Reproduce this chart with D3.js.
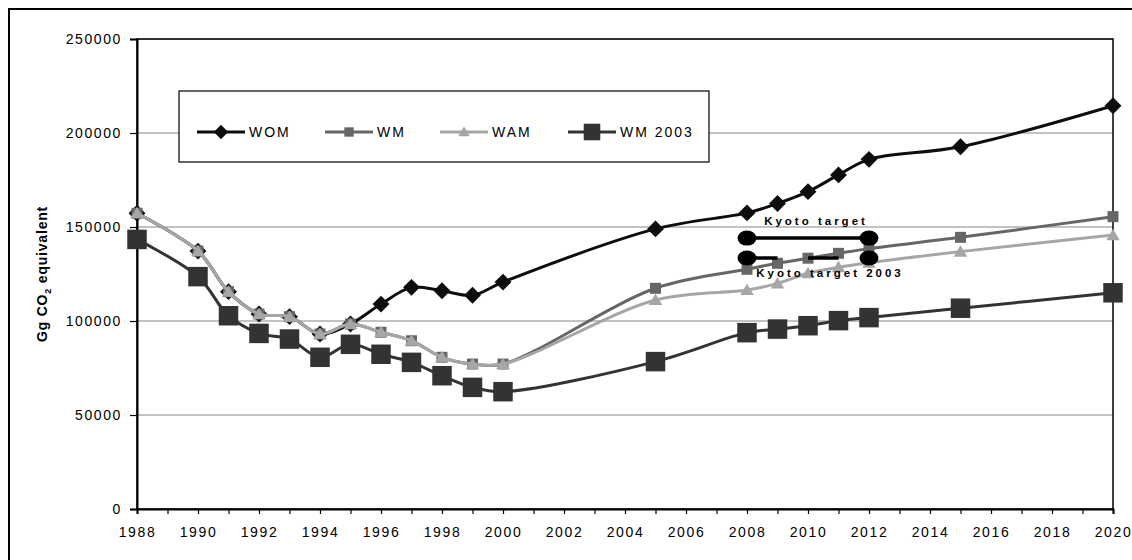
<!DOCTYPE html>
<html>
<head>
<meta charset="utf-8">
<script src="https://cdn.jsdelivr.net/npm/d3@7"></script>
<style>
    body { margin: 0; background: #fff; }
    text { font-family: Arial, "Liberation Sans", sans-serif; }
</style>
</head>
<body>
<svg id="svg"></svg>
<script>
// years that carry a marker in the original chart
const years = [1988, 1990, 1991, 1992, 1993, 1994, 1995, 1996, 1997, 1998, 1999, 2000,
    2005, 2008, 2009, 2010, 2011, 2012, 2015, 2020];

// Gg CO2 equivalent
const wom = [157300, 137200, 115600, 103700, 102300, 93100, 98400, 109000, 117900, 116100, 113700, 120700,
    149000, 157500, 162500, 168800, 177700, 186000, 192700, 214500];
const wm = [157300, 137200, 115600, 103700, 102300, 93100, 98400, 94000, 89500, 80700, 77100, 77100,
    117400, 127500, 130700, 133400, 136000, 138500, 144500, 155500];
const wam = [157300, 137200, 115600, 103700, 102300, 93100, 98400, 94000, 89500, 80700, 77100, 77100,
    111200, 116500, 120000, 125400, 128600, 131000, 136900, 145700];
const wm2003 = [143400, 123600, 102800, 93400, 90400, 80700, 87600, 82300, 78000, 70900, 64700, 62400,
    78400, 93800, 95700, 97500, 100200, 101800, 106800, 115000];

const kyotoYears = [2008, 2012];
const kyotoTarget = 144100;
const kyotoTarget2003 = 133500;

const yTicks = [0, 50000, 100000, 150000, 200000, 250000];
const xTicks = d3.range(1988, 2021);

const seriesNames = ["WOM", "WM", "WAM", "WM 2003"];
const seriesValues = [wom, wm, wam, wm2003];

const styles = {
    "WOM": { color: "#0d0d0d", marker: "diamond", size: 12.5 },
    "WM": { color: "#666666", marker: "square", size: 11 },
    "WAM": { color: "#a6a6a6", marker: "triangle", size: 13.5 },
    "WM 2003": { color: "#333333", marker: "square", size: 19.5 },
};

const W = 1132, H = 560;
const plot = { left: 137, right: 1113, top: 39, bottom: 509 };

const svg = d3.select("#svg").attr("width", W).attr("height", H);

const x = d3.scaleLinear().domain([1988, 2020]).range([plot.left, plot.right]);
const y = d3.scaleLinear().domain([0, 250000]).range([plot.bottom, plot.top]);

// outer chart frame (cut off at right and bottom in the original)
svg.append("rect")
    .attr("x", 9).attr("y", 9)
    .attr("width", 1140).attr("height", 580)
    .attr("fill", "none").attr("stroke", "#000").attr("stroke-width", 2);

// gridlines
svg.append("g")
    .selectAll("line")
    .data(yTicks.filter(v => v > 0))
    .join("line")
    .attr("x1", plot.left).attr("x2", plot.right)
    .attr("y1", d => y(d)).attr("y2", d => y(d))
    .attr("stroke", "#868686").attr("stroke-width", 1);

// plot border
svg.append("rect")
    .attr("x", plot.left).attr("y", plot.top)
    .attr("width", plot.right - plot.left).attr("height", plot.bottom - plot.top)
    .attr("fill", "none").attr("stroke", "#000").attr("stroke-width", 1.5);

const yAxis = svg.append("g")
    .attr("transform", `translate(${plot.left},0)`)
    .call(d3.axisLeft(y).tickValues(yTicks).tickSize(7).tickPadding(8).tickFormat(d => String(d)));

const xAxis = svg.append("g")
    .attr("transform", `translate(0,${plot.bottom})`)
    .call(d3.axisBottom(x).tickValues(xTicks).tickSize(5).tickPadding(13)
        .tickFormat(d => (d % 2 === 0 ? String(d) : "")));

[yAxis, xAxis].forEach(axis => {
    axis.select(".domain").attr("stroke", "#000").attr("stroke-width", 2);
    axis.selectAll(".tick line").attr("stroke", "#000").attr("stroke-width", 1.2);
    axis.selectAll("text")
        .attr("fill", "#000")
        .style("font-size", "14px")
        .style("letter-spacing", "1.6px");
});

// y axis title
const title = svg.append("text")
    .attr("transform", `translate(47,${(plot.top + plot.bottom) / 2}) rotate(-90)`)
    .attr("text-anchor", "middle")
    .style("font-size", "14px")
    .style("font-weight", "bold")
    .style("letter-spacing", "0.8px");
title.append("tspan").text("Gg CO");
title.append("tspan").text("2").style("font-size", "9px").attr("dy", 4);
title.append("tspan").text(" equivalent").attr("dy", -4);

const markerPath = function(shape, s) {
    const h = s / 2;
    if (shape === "diamond") {
        const d = h * 1.35;
        return `M0,${-d}L${d},0L0,${d}L${-d},0Z`;
    }
    if (shape === "triangle") {
        return `M0,${-h * 0.95}L${h},${h * 0.75}L${-h},${h * 0.75}Z`;
    }
    return `M${-h},${-h}H${h}V${h}H${-h}Z`;
};

const line = d3.line()
    .x(d => x(d.year))
    .y(d => y(d.value))
    .curve(d3.curveCatmullRom.alpha(0.5));

const series = seriesNames.map((name, i) => ({
    name: name,
    points: years.map((year, j) => ({ year: year, value: seriesValues[i][j] })),
}));

series.forEach(s => {
    const st = styles[s.name];
    const g = svg.append("g");
    g.append("path")
        .attr("d", line(s.points))
        .attr("fill", "none")
        .attr("stroke", st.color)
        .attr("stroke-width", 3);
    g.selectAll("path.mark")
        .data(s.points)
        .join("path")
        .attr("class", "mark")
        .attr("transform", d => `translate(${x(d.year)},${y(d.value)})`)
        .attr("d", markerPath(st.marker, st.size))
        .attr("fill", st.color);
});

// Kyoto targets
const kyoto = [
    { value: kyotoTarget, label: "Kyoto target", dash: null, labelDx: 8, labelDy: -13 },
    { value: kyotoTarget2003, label: "Kyoto target 2003", dash: x(2009) - x(2008), labelDx: 22, labelDy: 19 },
];
kyoto.forEach(k => {
    const g = svg.append("g");
    g.append("line")
        .attr("x1", x(kyotoYears[0])).attr("x2", x(kyotoYears[1]))
        .attr("y1", y(k.value)).attr("y2", y(k.value))
        .attr("stroke", "#000").attr("stroke-width", 3.5)
        .attr("stroke-dasharray", k.dash ? `${k.dash} ${k.dash}` : null);
    g.selectAll("ellipse")
        .data(kyotoYears)
        .join("ellipse")
        .attr("cx", d => x(d)).attr("cy", y(k.value))
        .attr("rx", 9.5).attr("ry", 7.5)
        .attr("fill", "#000");
    g.append("text")
        .attr("x", x((kyotoYears[0] + kyotoYears[1]) / 2) + k.labelDx)
        .attr("y", y(k.value) + k.labelDy)
        .attr("text-anchor", "middle")
        .style("font-size", "11.5px")
        .style("font-weight", "bold")
        .style("letter-spacing", "3px")
        .text(k.label);
});

// legend
const legend = svg.append("g").attr("transform", "translate(179,91)");
legend.append("rect")
    .attr("width", 530).attr("height", 71)
    .attr("fill", "#fff").attr("stroke", "#000").attr("stroke-width", 1.2);

const legendX = [18, 146, 261, 389];
series.forEach((s, i) => {
    const st = styles[s.name];
    const item = legend.append("g").attr("transform", `translate(${legendX[i]},41)`);
    item.append("line")
        .attr("x1", 0).attr("x2", 48)
        .attr("stroke", st.color).attr("stroke-width", 3);
    item.append("path")
        .attr("transform", "translate(24,0)")
        .attr("d", markerPath(st.marker, st.size * 0.85))
        .attr("fill", st.color);
    item.append("text")
        .attr("x", 52).attr("y", 5)
        .style("font-size", "14px")
        .style("letter-spacing", "2px")
        .text(s.name);
});
</script>
</body>
</html>
